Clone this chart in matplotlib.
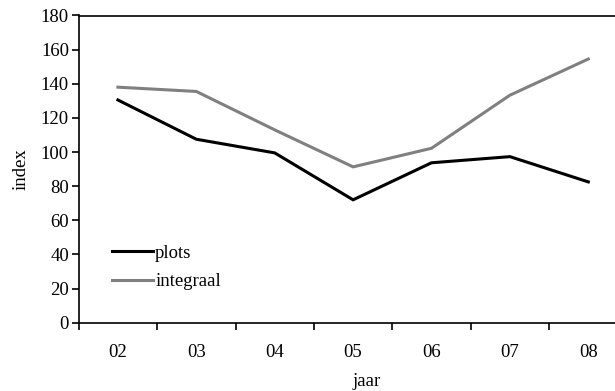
import matplotlib.pyplot as plt

plt.rcParams['font.family'] = ['Liberation Serif', 'DejaVu Serif']

years = ["02", "03", "04", "05", "06", "07", "08"]
plots = [130.5, 107.5, 99.5, 72, 93.7, 97.3, 82.5]
integraal = [138, 135.5, 113, 91.3, 102.2, 133.3, 154.5]

fs = 13.5

fig = plt.figure(figsize=(6.15, 3.91), dpi=100)
ax = fig.add_axes([78.7 / 615, 1 - 322.7 / 391, 548.8 / 615, 307.2 / 391])

x = range(len(years))
ax.plot(x, plots, color="#000000", lw=2.2, label="plots", solid_joinstyle="miter")
ax.plot(x, integraal, color="#808080", lw=2.2, label="integraal", solid_joinstyle="miter")

ax.set_xlim(-0.5, len(years) - 0.5)
ax.set_ylim(0, 180)
ax.set_yticks(range(0, 181, 20))
ax.set_xticks([i - 0.5 for i in range(len(years) + 1)], minor=False)
ax.set_xticklabels([])
ax.set_xticks(list(x), minor=True)
ax.set_xticklabels(years, minor=True)
ax.tick_params(axis="x", which="major", direction="out", length=5, width=1.2)
ax.tick_params(axis="x", which="minor", length=0, pad=15, labelsize=fs)
ax.tick_params(axis="y", direction="out", length=5, width=1.2, labelsize=fs, pad=2)
ax.spines['right'].set_visible(False)
for s in ['left', 'bottom', 'top']:
    ax.spines[s].set_linewidth(1.2)

ax.set_ylabel("index", fontsize=fs, labelpad=8)
ax.set_xlabel("jaar", fontsize=fs)
ax.xaxis.set_label_coords((367 - 78.7) / 548.8, -0.165)

ax.legend(loc="lower left", bbox_to_anchor=(0.03, 0.05), frameon=False, fontsize=fs,
          handlelength=2.2, handletextpad=0.1, labelspacing=0.62)

plt.savefig("out.png", dpi=100)
